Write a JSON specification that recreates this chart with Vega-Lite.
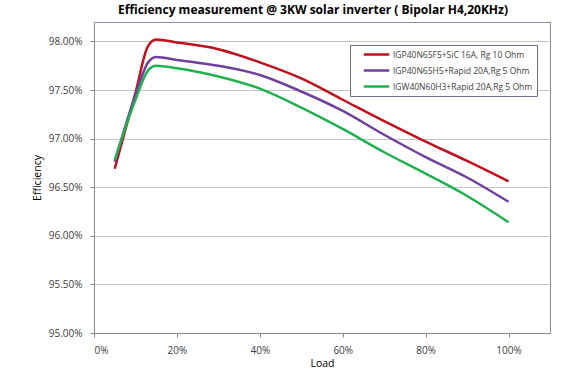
{
  "$schema": "https://vega.github.io/schema/vega-lite/v6.json",
  "width": 456,
  "height": 311,
  "autosize": "none",
  "padding": {"left": 94, "top": 22, "right": 26, "bottom": 39},
  "background": "white",
  "title": {
    "text": "Efficiency measurement @ 3KW solar inverter ( Bipolar H4,20KHz)",
    "font": "Open Sans",
    "fontSize": 12,
    "fontWeight": "bold",
    "color": "#000000",
    "anchor": "middle",
    "dx": -9,
    "offset": 5
  },
  "config": {
    "view": {"stroke": "#8a8ca6", "strokeWidth": 1},
    "axis": {"labelFont": "Open Sans", "titleFont": "Open Sans", "labelColor": "#404040", "titleColor": "#000000", "labelFontSize": 10, "titleFontSize": 10.5, "titleFontWeight": "normal", "domainColor": "#888888", "tickColor": "#888888"}
  },
  "data": {
    "values": [
      {"load": 0.05, "eff": 0.9669, "series": "IGP40N65F5+SiC 16A, Rg 10 Ohm"},
      {"load": 0.10, "eff": 0.9747, "series": "IGP40N65F5+SiC 16A, Rg 10 Ohm"},
      {"load": 0.13, "eff": 0.9795, "series": "IGP40N65F5+SiC 16A, Rg 10 Ohm"},
      {"load": 0.15, "eff": 0.9802, "series": "IGP40N65F5+SiC 16A, Rg 10 Ohm"},
      {"load": 0.20, "eff": 0.9799, "series": "IGP40N65F5+SiC 16A, Rg 10 Ohm"},
      {"load": 0.30, "eff": 0.9792, "series": "IGP40N65F5+SiC 16A, Rg 10 Ohm"},
      {"load": 0.40, "eff": 0.97785, "series": "IGP40N65F5+SiC 16A, Rg 10 Ohm"},
      {"load": 0.50, "eff": 0.9762, "series": "IGP40N65F5+SiC 16A, Rg 10 Ohm"},
      {"load": 0.60, "eff": 0.9740, "series": "IGP40N65F5+SiC 16A, Rg 10 Ohm"},
      {"load": 0.70, "eff": 0.9718, "series": "IGP40N65F5+SiC 16A, Rg 10 Ohm"},
      {"load": 0.80, "eff": 0.9697, "series": "IGP40N65F5+SiC 16A, Rg 10 Ohm"},
      {"load": 0.90, "eff": 0.9677, "series": "IGP40N65F5+SiC 16A, Rg 10 Ohm"},
      {"load": 1.00, "eff": 0.9656, "series": "IGP40N65F5+SiC 16A, Rg 10 Ohm"},
      {"load": 0.05, "eff": 0.9676, "series": "IGP40N65H5+Rapid 20A,Rg 5 Ohm"},
      {"load": 0.10, "eff": 0.9745, "series": "IGP40N65H5+Rapid 20A,Rg 5 Ohm"},
      {"load": 0.13, "eff": 0.9778, "series": "IGP40N65H5+Rapid 20A,Rg 5 Ohm"},
      {"load": 0.15, "eff": 0.9784, "series": "IGP40N65H5+Rapid 20A,Rg 5 Ohm"},
      {"load": 0.20, "eff": 0.9781, "series": "IGP40N65H5+Rapid 20A,Rg 5 Ohm"},
      {"load": 0.30, "eff": 0.9775, "series": "IGP40N65H5+Rapid 20A,Rg 5 Ohm"},
      {"load": 0.40, "eff": 0.97655, "series": "IGP40N65H5+Rapid 20A,Rg 5 Ohm"},
      {"load": 0.50, "eff": 0.97485, "series": "IGP40N65H5+Rapid 20A,Rg 5 Ohm"},
      {"load": 0.60, "eff": 0.97285, "series": "IGP40N65H5+Rapid 20A,Rg 5 Ohm"},
      {"load": 0.70, "eff": 0.9704, "series": "IGP40N65H5+Rapid 20A,Rg 5 Ohm"},
      {"load": 0.80, "eff": 0.9681, "series": "IGP40N65H5+Rapid 20A,Rg 5 Ohm"},
      {"load": 0.90, "eff": 0.9660, "series": "IGP40N65H5+Rapid 20A,Rg 5 Ohm"},
      {"load": 1.00, "eff": 0.9635, "series": "IGP40N65H5+Rapid 20A,Rg 5 Ohm"},
      {"load": 0.05, "eff": 0.9678, "series": "IGW40N60H3+Rapid 20A,Rg 5 Ohm"},
      {"load": 0.10, "eff": 0.9740, "series": "IGW40N60H3+Rapid 20A,Rg 5 Ohm"},
      {"load": 0.13, "eff": 0.9770, "series": "IGW40N60H3+Rapid 20A,Rg 5 Ohm"},
      {"load": 0.15, "eff": 0.9775, "series": "IGW40N60H3+Rapid 20A,Rg 5 Ohm"},
      {"load": 0.20, "eff": 0.97725, "series": "IGW40N60H3+Rapid 20A,Rg 5 Ohm"},
      {"load": 0.30, "eff": 0.9764, "series": "IGW40N60H3+Rapid 20A,Rg 5 Ohm"},
      {"load": 0.40, "eff": 0.97515, "series": "IGW40N60H3+Rapid 20A,Rg 5 Ohm"},
      {"load": 0.50, "eff": 0.9732, "series": "IGW40N60H3+Rapid 20A,Rg 5 Ohm"},
      {"load": 0.60, "eff": 0.9710, "series": "IGW40N60H3+Rapid 20A,Rg 5 Ohm"},
      {"load": 0.70, "eff": 0.9686, "series": "IGW40N60H3+Rapid 20A,Rg 5 Ohm"},
      {"load": 0.80, "eff": 0.9664, "series": "IGW40N60H3+Rapid 20A,Rg 5 Ohm"},
      {"load": 0.90, "eff": 0.9641, "series": "IGW40N60H3+Rapid 20A,Rg 5 Ohm"},
      {"load": 1.00, "eff": 0.9614, "series": "IGW40N60H3+Rapid 20A,Rg 5 Ohm"}
    ]
  },
  "mark": {"type": "line", "interpolate": "monotone", "strokeWidth": 2.5},
  "encoding": {
    "x": {
      "field": "load", "type": "quantitative", "title": "Load",
      "scale": {"domain": [0, 1.1], "nice": false, "zero": false},
      "axis": {"values": [0, 0.2, 0.4, 0.6, 0.8, 1.0], "format": ".0%", "grid": false, "tickSize": 4, "labelPadding": 8, "titlePadding": 3}
    },
    "y": {
      "field": "eff", "type": "quantitative", "title": "Efficiency",
      "scale": {"domain": [0.95, 0.982], "nice": false, "zero": false},
      "axis": {"values": [0.95, 0.955, 0.96, 0.965, 0.97, 0.975, 0.98], "format": ".2%", "grid": true, "gridColor": "#c4c4c4", "tickSize": 4, "labelPadding": 8, "titlePadding": 6}
    },
    "color": {
      "field": "series", "type": "nominal",
      "scale": {
        "domain": ["IGP40N65F5+SiC 16A, Rg 10 Ohm", "IGP40N65H5+Rapid 20A,Rg 5 Ohm", "IGW40N60H3+Rapid 20A,Rg 5 Ohm"],
        "range": ["#c0101c", "#7040a0", "#20b050"]
      },
      "legend": {
        "title": null,
        "orient": "none",
        "legendX": 256,
        "legendY": 23,
        "symbolType": "M-3,0H3",
        "symbolStrokeWidth": 2.5,
        "symbolSize": 72,
        "symbolOffset": 17,
        "labelFont": "Open Sans",
        "labelFontSize": 8.5,
        "labelOffset": 11,
        "labelColor": "#404040",
        "rowPadding": 5,
        "strokeColor": "#6a6c8c",
        "fillColor": "white",
        "padding": 4
      }
    }
  }
}
